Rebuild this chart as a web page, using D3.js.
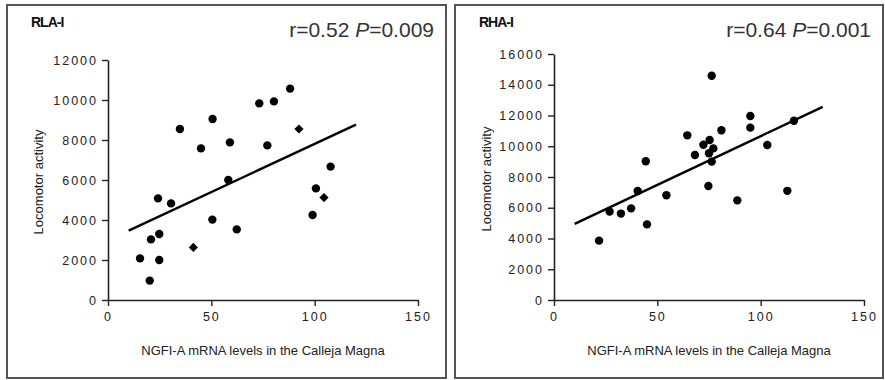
<!DOCTYPE html>
<html>
<head>
<meta charset="utf-8">
<script src="https://cdn.jsdelivr.net/npm/d3@7"></script>
<style>
  body { margin: 0; background: #fff; }
  svg { display: block; font-family: Arial, "Liberation Sans", sans-serif; }
</style>
</head>
<body>
<svg id="chart" width="885" height="380"></svg>
<script>
// RLA-I panel
const rlaDotX = [34.8, 50.6, 45.0, 59.0, 73.2, 80.3, 88.1, 77.1, 107.7, 58.2, 100.6, 24.2, 30.5, 50.5, 62.3, 99.0, 20.8, 24.8, 15.5, 24.8, 20.2];
const rlaDotY = [8550, 9050, 7580, 7880, 9830, 9930, 10570, 7730, 6670, 6000, 5580, 5080, 4830, 4020, 3530, 4250, 3030, 3300, 2080, 2000, 970];
const rlaStarX = [92.4, 104.5, 41.3];
const rlaStarY = [8550, 5120, 2630];
const rlaLineX = [10, 120];
const rlaLineY = [3470, 8770];
const rlaYTicks = [0, 2000, 4000, 6000, 8000, 10000, 12000];

// RHA-I panel
const rhaDotX = [76.3, 95.0, 95.0, 81.0, 103.2, 64.5, 75.3, 72.3, 77.1, 68.2, 75.0, 76.3, 44.4, 40.5, 54.4, 74.7, 88.7, 26.9, 32.4, 37.3, 45.0, 21.8, 116.1, 112.9];
const rhaDotY = [14590, 11970, 11210, 11040, 10080, 10710, 10410, 10100, 9860, 9430, 9540, 9000, 9020, 7090, 6810, 7410, 6480, 5750, 5620, 5960, 4920, 3860, 11660, 7100];
const rhaLineX = [10, 130];
const rhaLineY = [4950, 12560];
const rhaYTicks = [0, 2000, 4000, 6000, 8000, 10000, 12000, 14000, 16000];

const xTicks = [0, 50, 100, 150];
const xTitle = "NGFI-A mRNA levels in the Calleja Magna";
const yTitle = "Locomotor activity";

const svg = d3.select("#chart");

const drawPanel = (p) => {
    const g = svg.append("g");

    // frame
    g.append("rect")
        .attr("x", p.left).attr("y", 5)
        .attr("width", p.w).attr("height", 373)
        .attr("fill", "#fff")
        .attr("stroke", "#555")
        .attr("stroke-width", 2);

    const x = d3.scaleLinear().domain([0, 150]).range([p.x0, p.x0 + 310]);
    const y = d3.scaleLinear().domain([0, p.yMax]).range([300, p.yTop]);

    const xAxis = g.append("g")
        .attr("transform", "translate(0,300)")
        .call(d3.axisBottom(x).tickValues(xTicks).tickSize(6).tickSizeOuter(0).tickPadding(6));
    const yAxis = g.append("g")
        .attr("transform", `translate(${p.x0},0)`)
        .call(d3.axisLeft(y).tickValues(p.yTicks).tickFormat(d3.format("d"))
            .tickSize(6).tickSizeOuter(0).tickPadding(4));

    [xAxis, yAxis].forEach(a => {
        a.select(".domain").attr("stroke", "#222").attr("stroke-width", 1.6);
        a.selectAll(".tick line").attr("stroke", "#222").attr("stroke-width", 1.4);
        a.selectAll(".tick text")
            .attr("fill", "#222")
            .style("font-size", "12.5px")
            .style("letter-spacing", "2px");
    });

    // trend line
    const line = d3.line().x(d => x(d[0])).y(d => y(d[1]));
    g.append("path")
        .datum(d3.zip(p.lineX, p.lineY))
        .attr("fill", "none")
        .attr("stroke", "#000")
        .attr("stroke-width", 2.4)
        .attr("d", line);

    g.selectAll(".dot")
        .data(d3.zip(p.dotX, p.dotY))
        .join("circle")
        .attr("cx", d => x(d[0]))
        .attr("cy", d => y(d[1]))
        .attr("r", 4.2)
        .attr("fill", "#000");

    // the few points drawn as small diamonds
    g.selectAll(".star")
        .data(d3.zip(p.starX, p.starY))
        .join("path")
        .attr("transform", d => `translate(${x(d[0])},${y(d[1])}) rotate(45)`)
        .attr("d", d3.symbol(d3.symbolSquare, 42))
        .attr("fill", "#000");

    // titles
    g.append("text")
        .attr("x", p.left + 24).attr("y", 27)
        .attr("font-weight", "bold")
        .attr("font-size", 14)
        .attr("letter-spacing", "-1px")
        .attr("fill", "#111")
        .text(p.name);

    const stat = g.append("text")
        .attr("x", p.left + p.w - 12).attr("y", 37)
        .attr("text-anchor", "end")
        .attr("font-size", 21)
        .attr("fill", "#333");
    stat.append("tspan").text(`r=${p.r} `);
    stat.append("tspan").attr("font-style", "italic").text("P");
    stat.append("tspan").text(`=${p.p}`);

    g.append("text")
        .attr("x", p.x0 + 155).attr("y", 355)
        .attr("text-anchor", "middle")
        .attr("font-size", 13)
        .attr("fill", "#222")
        .text(xTitle);

    g.append("text")
        .attr("transform", `translate(${p.left + 36},${(300 + p.yTop) / 2 + 2}) rotate(-90)`)
        .attr("text-anchor", "middle")
        .attr("font-size", 13)
        .attr("fill", "#222")
        .text(yTitle);
};

drawPanel({
    name: "RLA-I", left: 7, w: 439, x0: 108, yMax: 12000, yTop: 60, yTicks: rlaYTicks,
    dotX: rlaDotX, dotY: rlaDotY, starX: rlaStarX, starY: rlaStarY,
    lineX: rlaLineX, lineY: rlaLineY, r: "0.52", p: "0.009"
});

drawPanel({
    name: "RHA-I", left: 455, w: 428, x0: 554, yMax: 16000, yTop: 54, yTicks: rhaYTicks,
    dotX: rhaDotX, dotY: rhaDotY, starX: [], starY: [],
    lineX: rhaLineX, lineY: rhaLineY, r: "0.64", p: "0.001"
});
</script>
</body>
</html>
